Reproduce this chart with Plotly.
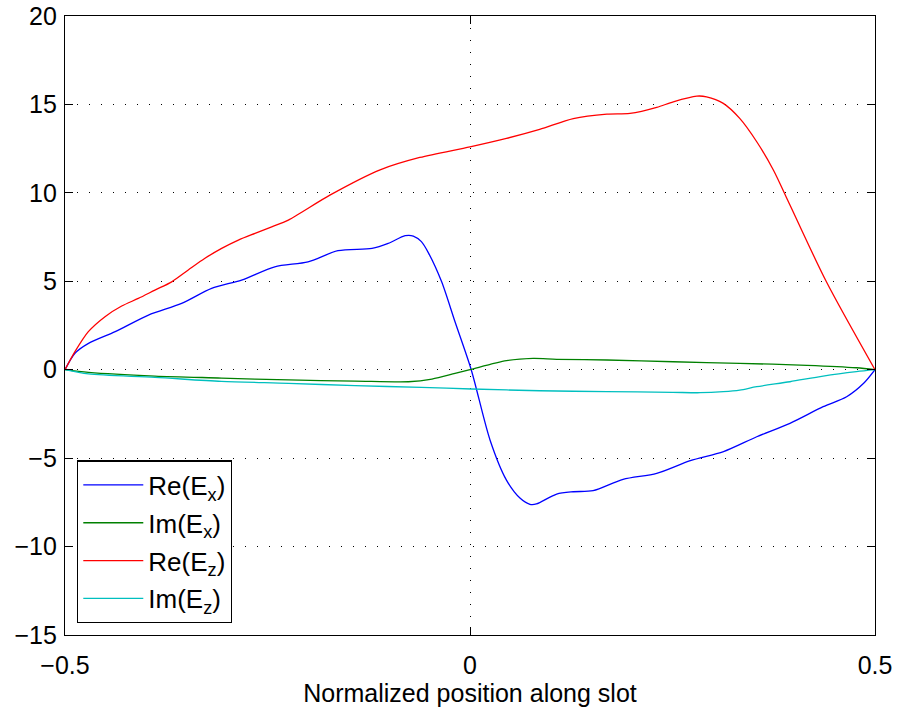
import plotly.graph_objects as go

# Field components along the slot (normalized position in [-0.5, 0.5])
re_ex_x = [-0.5, -0.4877, -0.471, -0.438, -0.397, -0.356, -0.319, -0.282, -0.241, -0.2,
           -0.163, -0.121, -0.101, -0.080, -0.070, -0.060, -0.051, -0.035, -0.0185, 0.0015,
           0.0247, 0.045, 0.062, 0.074, 0.082, 0.107, 0.1275, 0.152, 0.189, 0.2305,
           0.272, 0.313, 0.354, 0.395, 0.436, 0.465, 0.486, 0.5]
re_ex_y = [0, 0.93, 1.49, 2.15, 3.09, 3.75, 4.6, 5.07, 5.82, 6.1,
           6.73, 6.86, 7.14, 7.58, 7.56, 7.24, 6.58, 4.97, 2.71, 0,
           -3.97, -6.24, -7.27, -7.61, -7.59, -7.03, -6.9, -6.84, -6.2, -5.86,
           -5.14, -4.63, -3.79, -3.03, -2.09, -1.53, -0.77, 0]

im_ex_x = [-0.5, -0.471, -0.389, -0.307, -0.224, -0.142, -0.076, -0.047, -0.0185, 0,
           0.045, 0.078, 0.107, 0.169, 0.251, 0.333, 0.416, 0.477, 0.5]
im_ex_y = [0, -0.15, -0.36, -0.47, -0.58, -0.64, -0.68, -0.53, -0.21, 0,
           0.51, 0.64, 0.59, 0.55, 0.45, 0.36, 0.25, 0.11, 0]

re_ez_x = [-0.5, -0.4877, -0.4712, -0.4506, -0.430, -0.4095, -0.389, -0.3683, -0.3478, -0.3272,
           -0.3066, -0.286, -0.2654, -0.2448, -0.2243, -0.173, -0.111, -0.062, 0, 0.045,
           0.086, 0.1275, 0.169, 0.1975, 0.2305, 0.251, 0.28, 0.292, 0.3127, 0.333,
           0.354, 0.3745, 0.395, 0.44, 0.5]
re_ez_y = [0, 1.02, 2.15, 3.0, 3.6, 4.03, 4.5, 4.97, 5.64, 6.3,
           6.86, 7.33, 7.71, 8.08, 8.46, 9.87, 11.3, 12.0, 12.6, 13.08,
           13.59, 14.2, 14.45, 14.49, 14.83, 15.15, 15.47, 15.43, 15.06, 14.21,
           12.89, 11.29, 9.31, 4.97, 0]

im_ez_x = [-0.5, -0.471, -0.389, -0.307, -0.224, -0.142, -0.06, 0.002, 0.086, 0.169,
           0.25, 0.284, 0.3127, 0.333, 0.354, 0.395, 0.436, 0.477, 0.5]
im_ez_y = [0, -0.24, -0.43, -0.66, -0.77, -0.90, -1.0, -1.09, -1.19, -1.24,
           -1.28, -1.3, -1.24, -1.15, -0.96, -0.68, -0.36, -0.11, 0]

x_ticks = [-0.5, 0, 0.5]
x_tick_text = ["\u22120.5", "0", "0.5"]
y_ticks = [-15, -10, -5, 0, 5, 10, 15, 20]

series = [
    ("Re(E<sub>x</sub>)", re_ex_x, re_ex_y, "#0000ff"),
    ("Im(E<sub>x</sub>)", im_ex_x, im_ex_y, "#008000"),
    ("Re(E<sub>z</sub>)", re_ez_x, re_ez_y, "#ff0000"),
    ("Im(E<sub>z</sub>)", im_ez_x, im_ez_y, "#00bfbf"),
]

fig = go.Figure()
for i, (name, xs, ys, color) in enumerate(series):
    fig.add_trace(go.Scatter(
        x=xs, y=ys, name=name, mode="lines", legendgroup=f"g{i}",
        line=dict(color=color, width=1.3, shape="spline", smoothing=0.8),
    ))

font = "Liberation Sans, Arial, sans-serif"
fsize = 25
axis_common = dict(
    showline=True, linecolor="black", linewidth=1.3, mirror="ticks",
    ticks="inside", ticklen=8, tickcolor="black", tickwidth=1,
    showgrid=True, gridcolor="black", gridwidth=1, griddash="1px,11px",
    zeroline=False, automargin=False,
    tickfont=dict(family=font, size=fsize, color="black"),
)

fig.update_layout(
    width=900, height=712,
    margin=dict(l=65, r=25, t=16, b=77),
    paper_bgcolor="white", plot_bgcolor="white",
    font=dict(family=font, size=fsize, color="black"),
    showlegend=True,
    legend=dict(
        x=0.0148, y=0.019, xanchor="left", yanchor="bottom",
        bgcolor="white", bordercolor="black", borderwidth=1.3,
        font=dict(family=font, size=26, color="black"),
        tracegroupgap=1, itemwidth=60,
    ),
    xaxis=dict(
        range=[-0.5, 0.5], tickvals=x_ticks, ticktext=x_tick_text,
        ticklabelstandoff=8,
        title=dict(text="Normalized position along slot",
                   font=dict(family=font, size=fsize, color="black"), standoff=4),
        **axis_common,
    ),
    yaxis=dict(
        range=[-15, 20], tickvals=y_ticks, ticklabelstandoff=2,
        **axis_common,
    ),
)

fig.write_html("out.html")
